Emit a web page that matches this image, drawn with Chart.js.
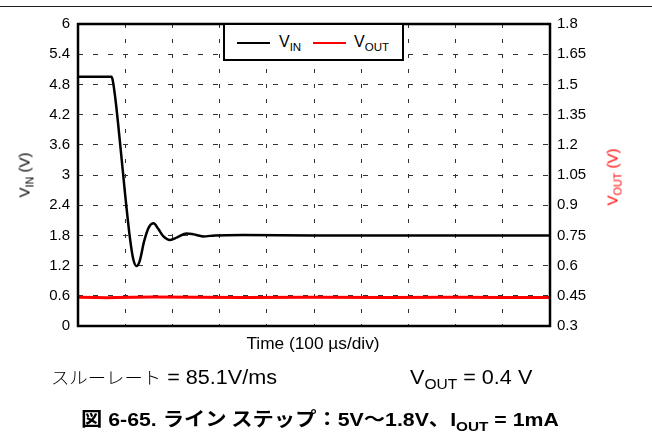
<!DOCTYPE html>
<html>
<head>
<meta charset="utf-8">
<script src="https://cdn.jsdelivr.net/npm/chart.js@4.4.1/dist/chart.umd.min.js"></script>
<style>
  body { margin: 0; width: 652px; height: 438px; position: relative; background: #fff; overflow: hidden;
         font-family: "Liberation Sans", Arial, sans-serif; }
  canvas { position: absolute; left: 0; top: 0; }
  .t { position: absolute; white-space: nowrap; color: #000; line-height: 1; }
  .s { font-size: 72%; position: relative; top: 0.35em; }
  .jp { font-family: "Noto Sans CJK JP"; }
  .rot { transform: translate(-50%, -50%) rotate(-90deg); }
  #rule { position: absolute; left: 0; top: 6px; width: 652px; height: 1px; background: #222; }
  #legend { position: absolute; left: 223px; top: 23px; width: 177px; height: 34px; border: 2px solid #000; background: #fff; }
  .key { position: absolute; top: 17px; width: 33px; height: 2px; }
</style>
</head>
<body>
<div id="rule"></div>
<canvas id="chart" width="652" height="438"></canvas>

<div id="legend">
  <div class="key" style="left:12px;background:#000"></div>
  <div class="t" style="left:54px;top:9px;font-size:16px">V<span class="s">IN</span></div>
  <div class="key" style="left:88px;background:#f00"></div>
  <div class="t" style="left:129px;top:9px;font-size:16px">V<span class="s">OUT</span></div>
</div>

<div class="t rot" style="left:24px;top:175px;font-size:15px">V<span class="s">IN</span> (V)</div>
<div class="t rot" style="left:612px;top:177px;font-size:15px;color:#f00">V<span class="s">OUT</span> (V)</div>
<div class="t" style="left:313px;top:344px;font-size:16px;transform:translate(-50%,-50%) scaleX(1.08)">Time (100 µs/div)</div>
<div class="t" style="left:51px;top:367px;font-size:20px;transform:scaleX(1.08);transform-origin:left center"><span class="jp" style="font-size:17px;font-weight:300">スルーレート</span> = 85.1V/ms</div>
<div class="t" style="left:410px;top:367px;font-size:20px;transform:scaleX(1.08);transform-origin:left center">V<span class="s">OUT</span> = 0.4 V</div>
<div class="t" style="left:81px;top:408px;font-size:19px;font-weight:bold;transform:scaleX(1.12);transform-origin:left center"><span class="jp">図</span> 6-65. <span class="jp">ライン ステップ：</span>5V<span class="jp">～</span>1.8V<span class="jp">、</span>I<span class="s">OUT</span> = 1mA</div>

<script>
// time in divisions (100 us/div)
const xTicks = [0, 1, 2, 3, 4, 5, 6, 7, 8, 9, 10];
const leftTicks = [0, 0.6, 1.2, 1.8, 2.4, 3, 3.6, 4.2, 4.8, 5.4, 6];
const leftLabels = ['0', '0.6', '1.2', '1.8', '2.4', '3', '3.6', '4.2', '4.8', '5.4', '6'];
const rightTicks = [0.3, 0.45, 0.6, 0.75, 0.9, 1.05, 1.2, 1.35, 1.5, 1.65, 1.8];
const rightLabels = ['0.3', '0.45', '0.6', '0.75', '0.9', '1.05', '1.2', '1.35', '1.5', '1.65', '1.8'];

const vinTime = [0, 0.71, 0.74, 0.8, 0.9, 1.0, 1.1, 1.17, 1.24, 1.31, 1.4, 1.5, 1.6, 1.7, 1.8, 1.95, 2.1, 2.3, 2.45, 2.65, 2.9, 3.5, 5, 7, 10];
const vin = [4.95, 4.95, 4.86, 4.45, 3.55, 2.6, 1.75, 1.33, 1.19, 1.3, 1.68, 1.96, 2.04, 1.93, 1.79, 1.71, 1.76, 1.84, 1.82, 1.78, 1.8, 1.81, 1.8, 1.8, 1.8];

const voutTime = [0, 0.4, 0.6, 0.8, 1.2, 1.6, 2.5, 3.5, 5, 6.5, 8, 9, 10];
const vout = [0.443, 0.442, 0.440, 0.441, 0.443, 0.444, 0.443, 0.442, 0.443, 0.442, 0.443, 0.442, 0.442];

const frame = {
  id: 'frame',
  afterDatasetsDraw(chart) {
    const { ctx, chartArea: a } = chart;
    ctx.save();
    ctx.strokeStyle = '#000';
    ctx.lineWidth = 2.5;
    ctx.strokeRect(a.left, a.top, a.right - a.left, a.bottom - a.top);
    ctx.restore();
  }
};

new Chart(document.getElementById('chart'), {
  type: 'line',
  data: {
    datasets: [
      {
        label: 'VIN',
        data: vinTime.map((t, i) => ({ x: t, y: vin[i] })),
        borderColor: '#000',
        borderWidth: 2.5,
        pointRadius: 0,
        cubicInterpolationMode: 'monotone',
        yAxisID: 'y'
      },
      {
        label: 'VOUT',
        data: voutTime.map((t, i) => ({ x: t, y: vout[i] })),
        borderColor: '#f00',
        borderWidth: 3,
        pointRadius: 0,
        tension: 0,
        yAxisID: 'y2'
      }
    ]
  },
  options: {
    responsive: false,
    animation: false,
    devicePixelRatio: 1,
    layout: { padding: { top: 24, bottom: 112, left: 0, right: 0 } },
    plugins: { legend: { display: false }, tooltip: { enabled: false } },
    scales: {
      x: {
        type: 'linear', min: 0, max: 10,
        afterBuildTicks: s => { s.ticks = xTicks.map(v => ({ value: v })); },
        afterFit: s => { s.height = 0; },
        ticks: { display: false },
        grid: { color: '#333', lineWidth: 1, drawTicks: false },
        border: { display: false, dash: [4, 11] }
      },
      y: {
        position: 'left', min: 0, max: 6,
        afterBuildTicks: s => { s.ticks = leftTicks.map(v => ({ value: v })); },
        afterFit: s => { s.width = 78; },
        ticks: {
          callback: (v, i) => leftLabels[i],
          color: '#000', padding: 8,
          font: { family: 'Liberation Sans', size: 15 }
        },
        grid: { color: '#333', lineWidth: 1, drawTicks: false },
        border: { display: false, dash: [5, 10] }
      },
      y2: {
        position: 'right', min: 0.3, max: 1.8,
        afterBuildTicks: s => { s.ticks = rightTicks.map(v => ({ value: v })); },
        afterFit: s => { s.width = 102; },
        ticks: {
          callback: (v, i) => rightLabels[i],
          color: '#000', padding: 7,
          font: { family: 'Liberation Sans', size: 15 }
        },
        grid: { display: false, drawTicks: false },
        border: { display: false }
      }
    }
  },
  plugins: [frame]
});
</script>
</body>
</html>
